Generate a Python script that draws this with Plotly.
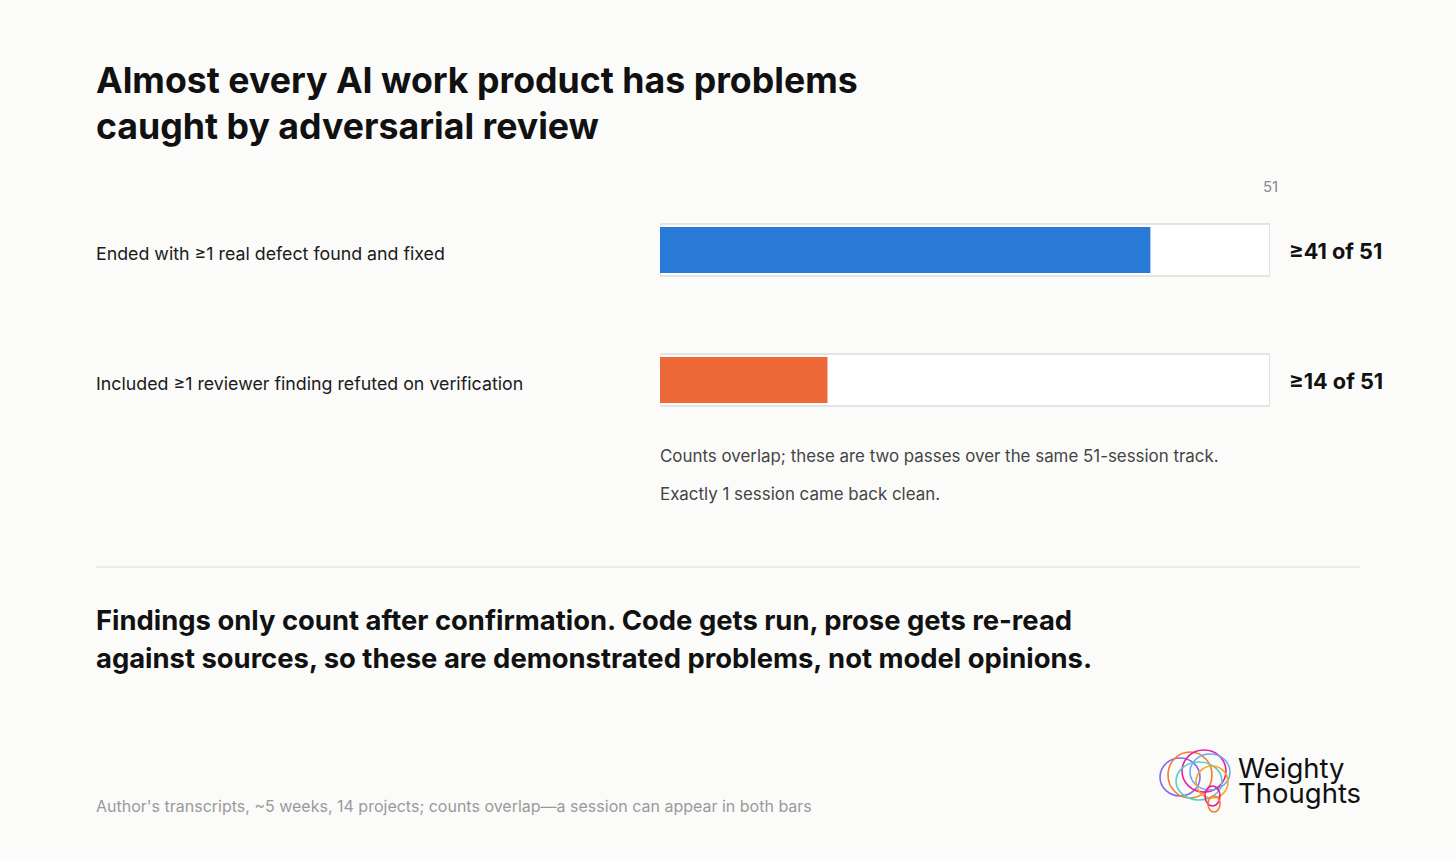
import plotly.graph_objects as go

# ---- data ----
categories = ["Ended with ≥1 real defect found and fixed",
              "Included ≥1 reviewer finding refuted on verification"]
values = [41, 14]
total = 51
value_labels = ["≥41 of 51", "≥14 of 51"]
bar_colors = ["#2979d6", "#ec6837"]

W, H = 1456, 860
L, R, T, B = 660, 186, 185, 415
PW, PH = W - L - R, H - T - B
BG = "#fbfbfa"
FONT = "Inter, 'Noto Sans', sans-serif"


def px(x):
    return (x - L) / PW


def py(y):
    return (H - B - y) / PH


ypos = list(range(len(categories)))

fig = go.Figure()
# tracks
fig.add_trace(go.Bar(
    x=[total] * len(categories), y=ypos, orientation="h", width=0.4,
    marker=dict(color="#ffffff", line=dict(color="#dcdcd8", width=1.5)),
    hoverinfo="skip", showlegend=False))
# values
fig.add_trace(go.Bar(
    x=values, y=ypos, orientation="h", width=0.355,
    marker=dict(color=bar_colors, line=dict(width=0), cornerradius=3),
    hoverinfo="skip", showlegend=False))

annotations = []


def ann(text, x, y, size, color="#111111", bold=False, xanchor="left", yanchor="middle"):
    a = dict(text=text, x=px(x), y=py(y), xref="paper", yref="paper",
             showarrow=False, xanchor=xanchor, yanchor=yanchor, align="left",
             font=dict(family=FONT, size=size, color=color,
                       weight=700 if bold else 400))
    annotations.append(a)


# title
ann("Almost every AI work product has problems", 94, 80, 35.7, bold=True)
ann("caught by adversarial review", 94, 126, 35.7, bold=True)
# row labels and value labels
for i, (c, vl) in enumerate(zip(categories, value_labels)):
    yc = 250 + 130 * i
    ann(c, 94, yc + 3, 17.8, color="#1a1a1a")
    ann(vl, 1287, yc + 1, 21.7, bold=True)
# axis max label
ann(str(total), 1270, 186, 15, color="#8a8a8a", xanchor="center")
# notes
ann("Counts overlap; these are two passes over the same 51-session track.",
    658, 456, 16.9, color="#444444")
ann("Exactly 1 session came back clean.", 658, 494, 16.9, color="#444444")
# takeaway
ann("Findings only count after confirmation. Code gets run, prose gets re-read",
    94, 620, 27.4, bold=True)
ann("against sources, so these are demonstrated problems, not model opinions.",
    94, 658, 27.4, bold=True)
# footer
ann("Author's transcripts, ~5 weeks, 14 projects; counts overlap—a session can appear in both bars",
    94, 806, 16, color="#9a9a9a")
# logo text
ann("Weighty", 1236, 768, 27.5, color="#111111")
ann("Thoughts", 1236, 793, 27.5, color="#111111")

shapes = [dict(type="line", xref="paper", yref="paper",
               x0=px(96), x1=px(1360), y0=py(567), y1=py(567),
               line=dict(color="#e6e6e3", width=1.5))]

# logo swirl (decorative)
logo = [
    (1160, 758, 1200, 796, "#7b6cf6"),
    (1168, 752, 1212, 798, "#f57c2b"),
    (1182, 750, 1226, 792, "#e91e9c"),
    (1176, 762, 1222, 800, "#4fd1c5"),
    (1190, 754, 1230, 790, "#6fa8f5"),
    (1196, 766, 1228, 798, "#f5a623"),
    (1205, 786, 1220, 806, "#e91e9c"),
    (1208, 796, 1220, 812, "#f57c2b"),
]
for x0, y0, x1, y1, col in logo:
    shapes.append(dict(type="circle", xref="paper", yref="paper",
                       x0=px(x0), x1=px(x1), y0=py(y1), y1=py(y0),
                       line=dict(color=col, width=1.6)))

fig.update_layout(
    width=W, height=H, paper_bgcolor=BG, plot_bgcolor=BG,
    margin=dict(l=L, r=R, t=T, b=B),
    barmode="overlay",
    xaxis=dict(range=[0, total], visible=False, fixedrange=True),
    yaxis=dict(range=[len(categories) - 0.5, -0.5], visible=False, fixedrange=True),
    annotations=annotations, shapes=shapes,
    font=dict(family=FONT),
)

fig.write_html("out.html", config={"displayModeBar": False})
